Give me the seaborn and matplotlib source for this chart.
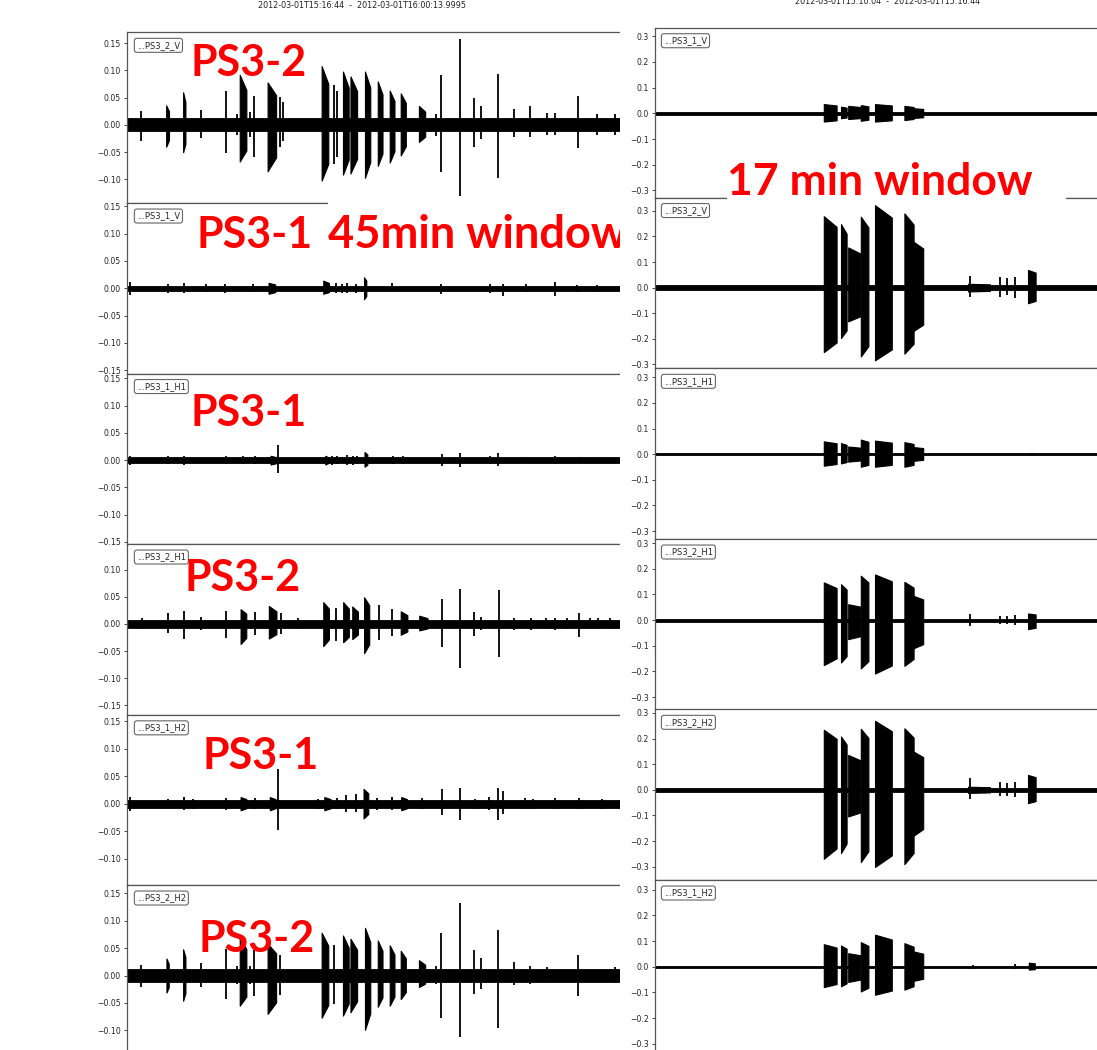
import pandas as pd
import seaborn as sns
import matplotlib.pyplot as plt
import matplotlib.ticker as mticker
from matplotlib.patches import Rectangle

# events: (time [min], width [min], upper amplitude, lower amplitude)
# left column: 45 min window
L_LABELS = ['...PS3_2_V', '...PS3_1_V', '...PS3_1_H1', '...PS3_2_H1', '...PS3_1_H2', '...PS3_2_H2']
L_NOISE = [0.012, 0.005, 0.005, 0.007, 0.007, 0.011]
L_YLIM = [(-0.143, 0.170), (-0.156, 0.156), (-0.154, 0.159), (-0.167, 0.147), (-0.149, 0.162), (-0.146, 0.165)]

ps3_2_v_45 = [
    (0.76, 0.06, 0.026, -0.029), (2.14, 0.15, 0.036, -0.040), (3.02, 0.12, 0.060, -0.050),
    (3.89, 0.06, 0.028, -0.024), (5.21, 0.08, 0.062, -0.052), (5.81, 0.06, 0.020, -0.018),
    (6.12, 0.35, 0.092, -0.067), (6.50, 0.06, 0.024, -0.022), (6.71, 0.08, 0.054, -0.058),
    (7.64, 0.45, 0.078, -0.085), (8.06, 0.08, 0.051, -0.040), (8.23, 0.08, 0.042, -0.030),
    (10.44, 0.35, 0.108, -0.102), (10.92, 0.10, 0.073, -0.072), (11.06, 0.08, 0.062, -0.058),
    (11.54, 0.30, 0.098, -0.091), (11.96, 0.35, 0.089, -0.089), (12.69, 0.28, 0.098, -0.097),
    (13.35, 0.25, 0.080, -0.075), (13.98, 0.25, 0.063, -0.069), (14.57, 0.27, 0.058, -0.056),
    (15.56, 0.33, 0.035, -0.031), (16.28, 0.06, 0.020, -0.020), (16.57, 0.06, 0.091, -0.086),
    (17.55, 0.06, 0.157, -0.130), (18.32, 0.06, 0.049, -0.040), (18.65, 0.06, 0.035, -0.025),
    (19.57, 0.06, 0.094, -0.098), (20.40, 0.06, 0.030, -0.022), (21.23, 0.06, 0.035, -0.022),
    (22.17, 0.06, 0.022, -0.018), (22.59, 0.06, 0.022, -0.018), (23.80, 0.06, 0.054, -0.042),
    (24.78, 0.06, 0.020, -0.018), (25.72, 0.06, 0.020, -0.018),
]
ps3_1_v_45 = [
    (0.14, 0.06, 0.011, -0.012), (2.16, 0.06, 0.008, -0.008), (3.00, 0.06, 0.009, -0.009),
    (4.14, 0.06, 0.007, -0.007), (5.18, 0.06, 0.008, -0.008), (6.65, 0.06, 0.007, -0.007),
    (7.64, 0.35, 0.010, -0.010), (10.50, 0.30, 0.014, -0.010), (11.02, 0.08, 0.009, -0.009),
    (11.33, 0.08, 0.008, -0.008), (11.60, 0.08, 0.009, -0.008), (12.06, 0.08, 0.008, -0.008),
    (12.56, 0.12, 0.020, -0.020), (14.00, 0.06, 0.009, -0.007), (16.54, 0.06, 0.008, -0.010),
    (19.15, 0.06, 0.007, -0.008), (19.82, 0.06, 0.008, -0.014), (21.03, 0.06, 0.007, -0.007),
    (22.59, 0.06, 0.012, -0.014), (23.74, 0.06, 0.006, -0.006), (24.78, 0.06, 0.006, -0.006),
]
ps3_1_h1_45 = [
    (0.16, 0.06, 0.008, -0.008), (2.18, 0.06, 0.007, -0.007), (3.02, 0.06, 0.008, -0.008),
    (5.22, 0.06, 0.007, -0.007), (6.14, 0.06, 0.007, -0.007), (6.75, 0.06, 0.007, -0.007),
    (7.72, 0.30, 0.008, -0.008), (7.98, 0.06, 0.027, -0.023), (10.53, 0.15, 0.008, -0.008),
    (10.79, 0.10, 0.008, -0.008), (11.06, 0.06, 0.007, -0.007), (11.59, 0.10, 0.009, -0.008),
    (11.94, 0.10, 0.008, -0.008), (12.11, 0.06, 0.007, -0.007), (12.60, 0.15, 0.015, -0.012),
    (14.05, 0.06, 0.007, -0.007), (14.57, 0.06, 0.007, -0.007), (16.60, 0.06, 0.012, -0.010),
    (17.56, 0.06, 0.014, -0.012), (19.14, 0.06, 0.007, -0.007), (19.58, 0.06, 0.014, -0.011),
    (20.99, 0.06, 0.006, -0.006), (22.57, 0.06, 0.007, -0.007), (23.89, 0.06, 0.006, -0.006),
    (24.95, 0.06, 0.006, -0.006),
]
ps3_2_h1_45 = [
    (0.77, 0.06, 0.010, -0.010), (2.14, 0.06, 0.020, -0.017), (3.02, 0.10, 0.024, -0.027),
    (3.89, 0.06, 0.012, -0.012), (5.22, 0.06, 0.023, -0.026), (6.14, 0.30, 0.027, -0.037),
    (6.75, 0.08, 0.021, -0.020), (7.68, 0.40, 0.033, -0.027), (8.10, 0.08, 0.020, -0.018),
    (9.04, 0.06, 0.010, -0.010), (10.50, 0.30, 0.040, -0.041), (11.02, 0.10, 0.030, -0.032),
    (11.55, 0.30, 0.040, -0.034), (12.03, 0.30, 0.032, -0.028), (12.64, 0.27, 0.049, -0.054),
    (13.27, 0.10, 0.035, -0.029), (13.98, 0.10, 0.027, -0.023), (14.61, 0.35, 0.023, -0.020),
    (15.63, 0.44, 0.015, -0.012), (16.60, 0.06, 0.046, -0.043), (17.56, 0.06, 0.064, -0.081),
    (18.32, 0.06, 0.021, -0.023), (18.67, 0.06, 0.012, -0.012), (19.62, 0.06, 0.062, -0.061),
    (20.43, 0.06, 0.011, -0.011), (21.31, 0.06, 0.011, -0.011), (22.08, 0.06, 0.010, -0.010),
    (22.57, 0.06, 0.011, -0.011), (23.22, 0.06, 0.010, -0.010), (23.84, 0.06, 0.020, -0.025),
    (24.42, 0.06, 0.010, -0.010), (24.86, 0.06, 0.010, -0.010), (25.47, 0.06, 0.010, -0.010),
]
ps3_1_h2_45 = [
    (0.16, 0.06, 0.012, -0.014), (2.18, 0.06, 0.009, -0.009), (3.02, 0.08, 0.012, -0.012),
    (3.50, 0.06, 0.009, -0.009), (5.22, 0.06, 0.011, -0.011), (6.14, 0.30, 0.012, -0.012),
    (6.75, 0.06, 0.010, -0.010), (7.68, 0.30, 0.012, -0.012), (7.98, 0.06, 0.063, -0.048),
    (10.09, 0.06, 0.009, -0.009), (10.57, 0.33, 0.012, -0.012), (11.06, 0.06, 0.010, -0.010),
    (11.55, 0.08, 0.015, -0.015), (12.08, 0.10, 0.018, -0.016), (12.60, 0.25, 0.027, -0.027),
    (13.17, 0.06, 0.011, -0.011), (13.99, 0.10, 0.012, -0.012), (14.61, 0.30, 0.012, -0.012),
    (15.54, 0.06, 0.010, -0.010), (16.60, 0.06, 0.026, -0.021), (17.56, 0.06, 0.029, -0.030),
    (18.35, 0.06, 0.009, -0.009), (19.11, 0.06, 0.013, -0.012), (19.58, 0.06, 0.029, -0.029),
    (19.85, 0.06, 0.024, -0.018), (20.99, 0.06, 0.010, -0.010), (21.43, 0.06, 0.009, -0.009),
    (22.57, 0.06, 0.010, -0.010), (23.84, 0.06, 0.010, -0.010), (25.03, 0.06, 0.009, -0.009),
]
ps3_2_h2_45 = [
    (0.76, 0.06, 0.020, -0.021), (2.14, 0.12, 0.031, -0.031), (3.02, 0.12, 0.048, -0.046),
    (3.89, 0.06, 0.023, -0.021), (5.21, 0.08, 0.049, -0.043), (5.81, 0.06, 0.018, -0.016),
    (6.12, 0.35, 0.069, -0.055), (6.50, 0.06, 0.018, -0.016), (6.71, 0.08, 0.046, -0.037),
    (7.64, 0.45, 0.058, -0.070), (8.06, 0.08, 0.037, -0.035), (10.44, 0.35, 0.078, -0.077),
    (10.92, 0.10, 0.055, -0.052), (11.54, 0.30, 0.073, -0.073), (11.96, 0.35, 0.067, -0.067),
    (12.69, 0.28, 0.087, -0.099), (13.35, 0.25, 0.064, -0.057), (13.98, 0.25, 0.055, -0.055),
    (14.57, 0.27, 0.045, -0.043), (15.56, 0.33, 0.028, -0.021), (16.28, 0.06, 0.018, -0.016),
    (16.57, 0.06, 0.077, -0.077), (17.55, 0.06, 0.133, -0.113), (18.32, 0.06, 0.047, -0.034),
    (18.65, 0.06, 0.032, -0.024), (19.57, 0.06, 0.083, -0.096), (20.40, 0.06, 0.024, -0.018),
    (21.23, 0.06, 0.018, -0.016), (22.17, 0.06, 0.016, -0.014), (23.80, 0.06, 0.038, -0.037),
    (25.72, 0.06, 0.016, -0.014),
]
L_EVENTS = [ps3_2_v_45, ps3_1_v_45, ps3_1_h1_45, ps3_2_h1_45, ps3_1_h2_45, ps3_2_h2_45]

# right column: 17 min window
R_LABELS = ['...PS3_1_V', '...PS3_2_V', '...PS3_1_H1', '...PS3_2_H1', '...PS3_2_H2', '...PS3_1_H2']
R_NOISE = [0.005, 0.010, 0.004, 0.006, 0.008, 0.005]
R_YLIM = [(-0.330, 0.333), (-0.314, 0.352), (-0.330, 0.335), (-0.348, 0.316), (-0.351, 0.314), (-0.326, 0.338)]

ps3_1_v_17 = [
    (4.38, 0.32, 0.036, -0.032), (4.72, 0.14, 0.026, -0.019), (4.98, 0.30, 0.029, -0.022),
    (5.24, 0.19, 0.032, -0.029), (5.71, 0.42, 0.036, -0.032), (6.35, 0.23, 0.029, -0.026),
    (6.58, 0.25, 0.020, -0.018),
]
ps3_2_v_17 = [
    (4.38, 0.32, 0.279, -0.252), (4.72, 0.14, 0.248, -0.197), (4.98, 0.30, 0.157, -0.132),
    (5.24, 0.19, 0.277, -0.269), (5.71, 0.42, 0.322, -0.284), (6.35, 0.23, 0.290, -0.258),
    (6.58, 0.25, 0.180, -0.170), (7.88, 0.06, 0.045, -0.038), (8.10, 0.55, 0.015, -0.015),
    (8.63, 0.06, 0.040, -0.035), (8.79, 0.06, 0.038, -0.030), (9.00, 0.06, 0.042, -0.040),
    (9.42, 0.19, 0.069, -0.061),
]
ps3_1_h1_17 = [
    (4.38, 0.32, 0.050, -0.045), (4.72, 0.14, 0.043, -0.036), (4.98, 0.30, 0.030, -0.029),
    (5.24, 0.19, 0.057, -0.049), (5.71, 0.42, 0.053, -0.049), (6.35, 0.23, 0.047, -0.049),
    (6.58, 0.25, 0.028, -0.026), (9.42, 0.10, 0.006, -0.006),
]
ps3_2_h1_17 = [
    (4.38, 0.32, 0.147, -0.175), (4.72, 0.14, 0.140, -0.165), (4.98, 0.30, 0.062, -0.074),
    (5.24, 0.19, 0.173, -0.188), (5.71, 0.42, 0.178, -0.208), (6.35, 0.23, 0.149, -0.178),
    (6.58, 0.25, 0.095, -0.110), (7.88, 0.06, 0.022, -0.022), (8.63, 0.06, 0.017, -0.015),
    (8.79, 0.06, 0.017, -0.015), (9.00, 0.06, 0.020, -0.018), (9.42, 0.19, 0.026, -0.035),
]
ps3_2_h2_17 = [
    (4.38, 0.32, 0.234, -0.269), (4.72, 0.14, 0.208, -0.247), (4.98, 0.30, 0.136, -0.104),
    (5.24, 0.19, 0.238, -0.282), (5.71, 0.42, 0.269, -0.301), (6.35, 0.23, 0.240, -0.290),
    (6.58, 0.25, 0.150, -0.180), (7.88, 0.06, 0.045, -0.035), (8.10, 0.55, 0.012, -0.012),
    (8.63, 0.06, 0.030, -0.026), (8.79, 0.06, 0.028, -0.024), (9.00, 0.06, 0.032, -0.028),
    (9.42, 0.19, 0.058, -0.052),
]
ps3_1_h2_17 = [
    (4.38, 0.32, 0.088, -0.079), (4.72, 0.14, 0.083, -0.076), (4.98, 0.30, 0.053, -0.059),
    (5.24, 0.19, 0.096, -0.096), (5.71, 0.42, 0.125, -0.109), (6.35, 0.23, 0.092, -0.089),
    (6.58, 0.25, 0.060, -0.055), (7.96, 0.06, 0.008, -0.008), (9.00, 0.06, 0.010, -0.010),
    (9.42, 0.15, 0.016, -0.011),
]
R_EVENTS = [ps3_1_v_17, ps3_2_v_17, ps3_1_h1_17, ps3_2_h1_17, ps3_2_h2_17, ps3_1_h2_17]

L_TITLE = '2012-03-01T15:16:44  -  2012-03-01T16:00:13.9995'
R_TITLE = '2012-03-01T15:10:04  -  2012-03-01T15:16:44'

# red annotations pasted on top: (text, x px, baseline px)
L_NOTES = [('PS3-2', 190, 76), ('PS3-1', 196, 248), ('PS3-1', 190, 426),
           ('PS3-2', 184, 591), ('PS3-1', 203, 769), ('PS3-2', 198, 952)]

sns.set_theme(style='ticks')
plt.rcParams['font.family'] = ['DejaVu Sans']
W, H = 1097, 1050
fig = plt.figure(figsize=(W / 100, H / 100), dpi=100)
fig.patch.set_facecolor('white')


def fx(px):
    return px / W


def fy(py):
    return 1 - py / H


def draw_panel(ax, events, noise, ylim, label, xmax, step, taper):
    df = pd.DataFrame(events, columns=['t', 'w', 'hi', 'lo'])
    ax.fill_between([0, xmax], -noise, noise, color='black', lw=0.6)
    spikes = df[df['w'] <= 0.1]
    ax.vlines(spikes['t'], spikes['lo'], spikes['hi'], color='black', lw=1.3)
    # wider bursts: sharp onset, amplitude fading towards the end
    for _, r in df[df['w'] > 0.1].iterrows():
        x0, x1 = r['t'] - r['w'] / 2, r['t'] + r['w'] / 2
        ax.fill_between([x0, x1], [r['lo'], min(r['lo'] * taper, -noise)],
                        [r['hi'], max(r['hi'] * taper, noise)], color='black', lw=0.8)
    ax.set_xlim(0, xmax)
    ax.set_ylim(*ylim)
    ax.yaxis.set_major_locator(mticker.MultipleLocator(step))
    ax.set_xticks([])
    ax.tick_params(axis='y', labelsize=5.6, length=2.5, width=0.6, pad=2, colors='#222222')
    ax.set_facecolor('white')
    sns.despine(ax=ax, top=False, right=True)
    for s in ['left', 'top', 'bottom']:
        ax.spines[s].set_color('#555555')
        ax.spines[s].set_linewidth(0.9)
    ax.text(0.02, 0.95, label, transform=ax.transAxes, va='top', ha='left', fontsize=6,
            bbox=dict(boxstyle='round,pad=0.3', fc='white', ec='#555555', lw=0.8, alpha=0.9))


# left column
L_TOPS = [32.3, 203.0, 373.5, 544.0, 714.8, 885.0]
for i in range(6):
    ax = fig.add_axes([fx(127), fy(L_TOPS[i] + 170.6), fx(620 - 127), 170.6 / H])
    ax.set_zorder(1)
    draw_panel(ax, L_EVENTS[i], L_NOISE[i], L_YLIM[i], L_LABELS[i], 26.0, 0.05, 0.7)

fig.text(fx(362), fy(5), L_TITLE, ha='center', va='center', fontsize=5.8, color='#222222', zorder=1)

red_font = dict(color='red', fontweight='bold', family=['Lato', 'DejaVu Sans'])
for txt, x, y in L_NOTES:
    fig.text(fx(x), fy(y), txt, ha='left', va='baseline', fontsize=31, zorder=1.5, **red_font)
fig.add_artist(Rectangle((fx(328), fy(257)), fx(640 - 328), 58 / H, transform=fig.transFigure,
                         facecolor='white', edgecolor='none', zorder=1.4))
fig.text(fx(328), fy(248), '45min window', ha='left', va='baseline', fontsize=32.5, zorder=1.5, **red_font)

# right screenshot covers the left one
cover = fig.add_axes([fx(620), 0, 1 - fx(620), 1])
cover.set_zorder(2)
cover.set_facecolor('white')
cover.set_xticks([])
cover.set_yticks([])
for s in cover.spines.values():
    s.set_visible(False)

R_TOPS = [27.7, 197.5, 368.3, 539.0, 709.3, 880.0]
for i in range(6):
    ax = fig.add_axes([fx(655), fy(R_TOPS[i] + 170.5), fx(1100 - 655), 170.5 / H])
    ax.set_zorder(3)
    draw_panel(ax, R_EVENTS[i], R_NOISE[i], R_YLIM[i], R_LABELS[i], 11.125, 0.1, 0.85)

fig.text(fx(888), fy(1), R_TITLE, ha='center', va='center', fontsize=5.8, color='#222222', zorder=4)
fig.add_artist(Rectangle((fx(727), fy(201)), fx(1066 - 727), 51 / H, transform=fig.transFigure,
                         facecolor='white', edgecolor='none', zorder=5))
fig.text(fx(727), fy(195), '17 min window', ha='left', va='baseline', fontsize=32, zorder=6, **red_font)

fig.savefig('out.png', dpi=100)
